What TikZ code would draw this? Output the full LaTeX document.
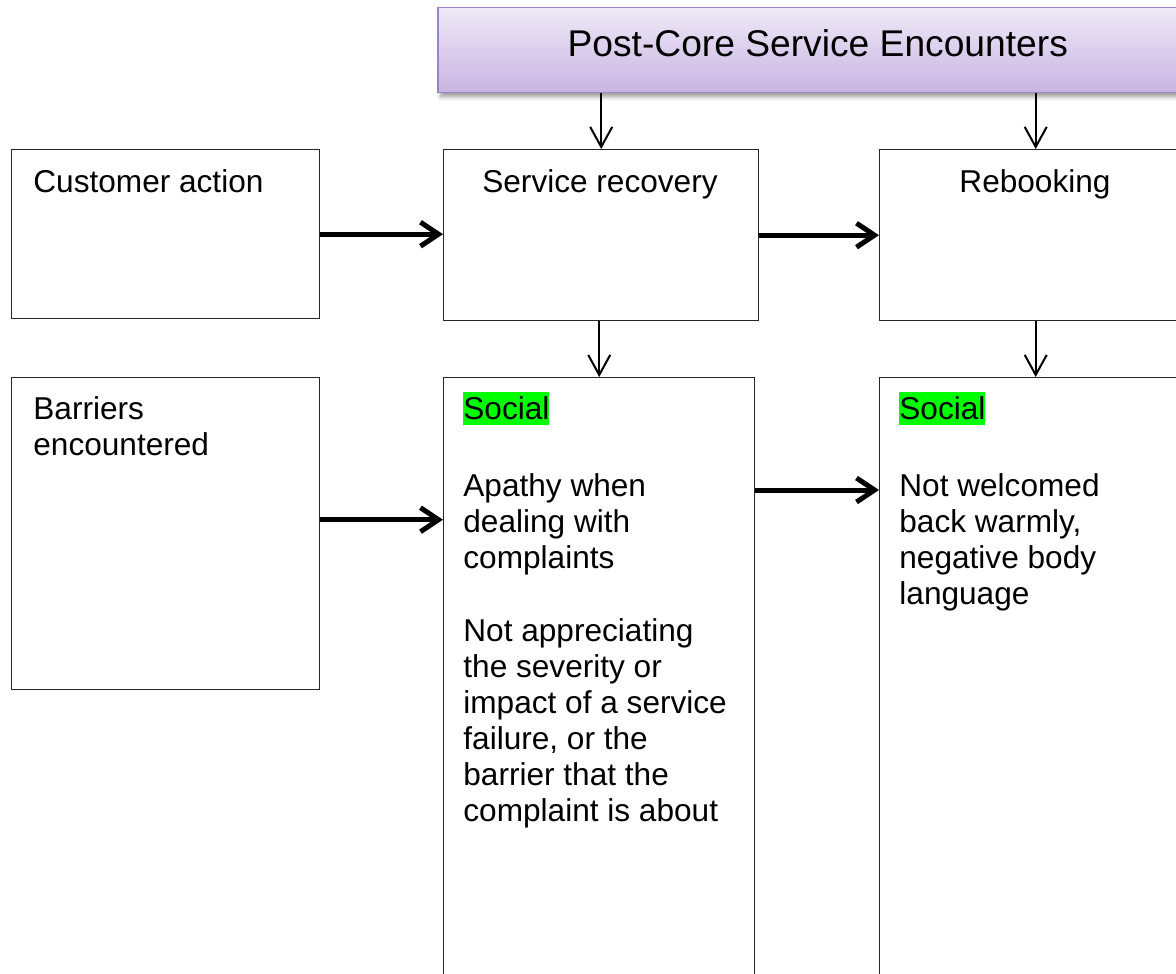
\documentclass[tikz,border=0pt]{standalone}
\usepackage{fontspec}
\setmainfont{Liberation Sans}
\usetikzlibrary{arrows.meta, positioning, calc, shadows.blur}
\definecolor{headTop} {RGB}{239,233,247}
\definecolor{headBot} {RGB}{200,180,226}
\definecolor{headLine}{RGB}{158,132,196}
\definecolor{hlGreen} {RGB}{  0,255,  0}
\newcommand{\hlSocial}[1]{{\setlength{\fboxsep}{0pt}%
  \colorbox{hlGreen}{\rule[-3pt]{0pt}{16.5pt}#1}}}

\begin{document}
\begin{tikzpicture}[x=0.5pt, y=-0.5pt,
  box/.style={rectangle, draw=black!85, line width=0.7pt, anchor=north west,
    inner sep=0pt},
  txt/.style={inner sep=0pt, align=left, anchor=base west,
    font=\fontsize{15.8}{18}\selectfont},
  ctxt/.style={txt, anchor=base, align=center},
  ptxt/.style={txt, anchor=north west},
  arrThin/.style={-{Straight Barb[length=10pt, width=11pt]}, line width=1pt},
  arrFat/.style={-{Straight Barb[length=9pt, width=12pt]}, line width=2.5pt},
]
\useasboundingbox (0,0) rectangle (1176,973);
\clip (0,0) rectangle (1176,973);

%% Header
\node[box, draw=headLine, line width=0.75pt, top color=headTop, bottom color=headBot,
  minimum width=380pt, minimum height=42.5pt, text depth=7pt,
  font=\fontsize{18.6}{22}\selectfont,
  blur shadow={shadow xshift=1.5pt, shadow yshift=-2pt, shadow blur steps=6}]
  (head) at (437,7) {Post-Core Service Encounters};

%% Top row
\node[box, minimum width=154pt, minimum height=84.5pt]   (act)    at (11,149)  {};
\node[box, minimum width=157.5pt, minimum height=85.5pt] (rec)    at (443,149) {};
\node[box, minimum width=156pt, minimum height=85.5pt]   (rebook) at (879,149) {};

\node[txt]  (actTxt)    at (33,192)   {Customer action};
\node[ctxt] (recTxt)    at (600,192)  {Service recovery};
\node[ctxt] (rebookTxt) at (1035,192) {Rebooking};

%% Bottom row
\node[box, minimum width=154pt, minimum height=156pt]   (barr)   at (11,377)  {};
\node[box, minimum width=155.5pt, minimum height=350pt] (recSoc) at (443,377) {};
\node[box, minimum width=156pt, minimum height=350pt]   (rebSoc) at (879,377) {};

\node[ptxt] (barrTxt) at (33,396) {Barriers\\encountered};
\node[ptxt] (recSocTxt) at (463,392)
  {\hlSocial{Social}\\[20.5pt]
   Apathy when\\dealing with\\complaints\\[18.5pt]
   Not appreciating\\the severity or\\impact of a service\\failure, or the\\
   barrier that the\\complaint is about};
\node[ptxt] (rebSocTxt) at (899,392)
  {\hlSocial{Social}\\[20.5pt]
   Not welcomed\\back warmly,\\negative body\\language};

%% Header to top row
\foreach \b in {rec, rebook}{
  \draw[arrThin] (head.south -| \b.north) -- (\b.north);
}
%% Top row to bottom row
\foreach \a/\b in {rec/recSoc, rebook/rebSoc}{
  \draw[arrThin] (\a.south -| \b.north) -- (\b.north);
}

%% Thick arrows left to right
\draw[arrFat] (act.east) -- (act.east -| rec.west);
\draw[arrFat] (rec.east) -- (rec.east -| rebook.west);
\draw[arrFat] ([yshift=7pt]barr.east) -- ([yshift=7pt]barr.east -| recSoc.west);
\draw[arrFat] ([yshift=-56.5pt]recSoc.north east)
  -- ([yshift=-56.5pt]recSoc.north east -| rebSoc.west);
\end{tikzpicture}
\end{document}
